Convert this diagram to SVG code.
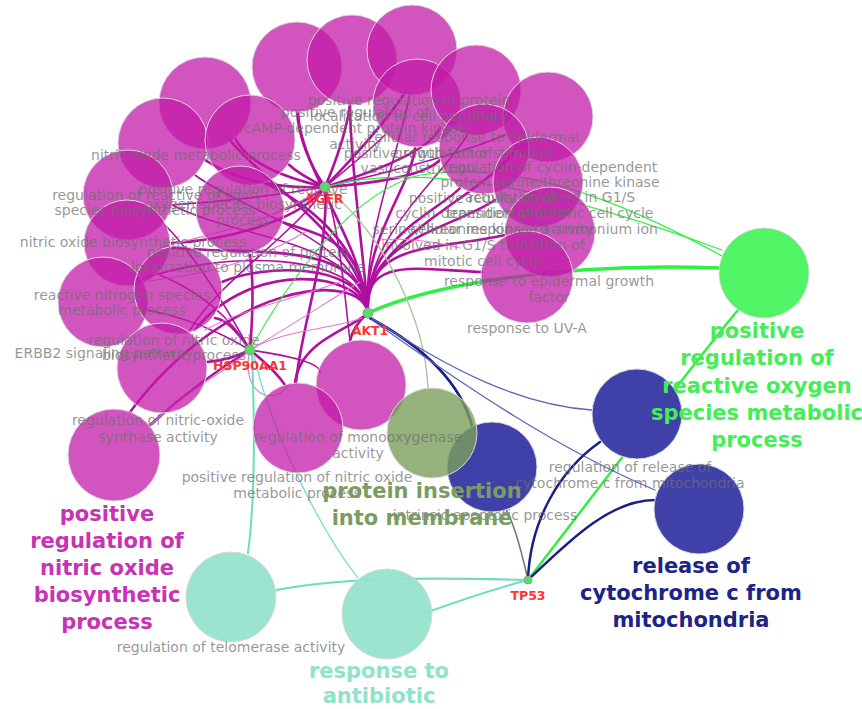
<svg xmlns="http://www.w3.org/2000/svg" width="862" height="709" viewBox="0 0 862 709">
<style>
.bg{fill:#ffffff}
.e{fill:none;stroke-linecap:round}
.mg{stroke:#b0109e;stroke-width:2.6}
.mt{stroke:#b0109e;stroke-width:1.6}
.pk{stroke:#e07ad0;stroke-width:1.1}
.gr{stroke:#33ee44}
.nv{stroke:#1a1f85}
.nl{stroke:#6464bc;stroke-width:1.3}
.ol{stroke:#a9c49a;stroke-width:1.4}
.tl{stroke:#6fdcbc}
.c{stroke:#d8d8d8;stroke-width:1}
.cm{fill:#c21aa8;fill-opacity:0.74}
.cg{fill:#50f464}
.cn{fill:#3a3aa6;fill-opacity:0.97}
.co{fill:#7b9f5c;fill-opacity:0.8}
.ct{fill:#95e3cd;fill-opacity:0.95}
.lb{font-family:"DejaVu Sans",Verdana,sans-serif;font-size:14px;fill:#6e6e6e;fill-opacity:0.72;text-anchor:middle}
.big{font-family:"DejaVu Sans",Verdana,sans-serif;font-size:21px;font-weight:bold;text-anchor:middle}
.gn{font-family:"DejaVu Sans",Verdana,sans-serif;font-size:12.5px;font-weight:bold;fill:#ff3333;text-anchor:middle}
.gd{fill:#55dd66;stroke:#9a9a9a;stroke-width:1}
</style>
<rect class="bg" x="0" y="0" width="862" height="709"/>

<g id="connectors">
  <path class="e mg" d="M368,313 C362,240 300,170 298,112"/>
  <path class="e mg" d="M368,313 C362,240 350,160 350,105"/>
  <path class="e mt" d="M368,313 C362,240 400,150 410,93"/>
  <path class="e mg" d="M368,313 C362,240 410,190 415,148"/>
  <path class="e mt" d="M368,313 C362,240 440,180 468,134"/>
  <path class="e mg" d="M368,313 C362,240 480,200 515,150"/>
  <path class="e mg" d="M368,313 C362,240 440,210 460,188"/>
  <path class="e mg" d="M368,313 C362,240 450,230 495,200"/>
  <path class="e mg" d="M368,313 C362,240 440,250 505,235"/>
  <path class="e mg" d="M368,313 C362,255 420,270 482,272"/>
  <path class="e mg" d="M368,313 C362,240 260,180 230,140"/>
  <path class="e mt" d="M368,313 C362,240 240,210 195,175"/>
  <path class="e mg" d="M368,313 C362,240 300,200 265,183"/>
  <path class="e mt" d="M368,313 C362,240 240,240 172,205"/>
  <path class="e mg" d="M368,313 C362,240 320,235 282,222"/>
  <path class="e mg" d="M368,313 C362,240 260,255 172,248"/>
  <path class="e mt" d="M368,313 C362,250 220,250 140,280"/>
  <path class="e mg" d="M368,313 C360,260 260,265 222,282"/>
  <path class="e mg" d="M368,313 C360,270 250,260 195,330"/>
  <path class="e mg" d="M368,313 C360,270 230,280 130,412"/>
  <path class="e mg" d="M368,313 C360,320 352,330 350,341"/>
  <path class="e mg" d="M368,313 C350,330 300,340 295,383"/>
  <path class="e mg" d="M325,187 Q300,150 297,112"/>
  <path class="e mg" d="M325,187 Q345,140 350,105"/>
  <path class="e mg" d="M325,187 Q380,130 405,93"/>
  <path class="e mt" d="M325,187 Q370,150 385,135"/>
  <path class="e mg" d="M325,187 C380,170 430,150 440,128"/>
  <path class="e mg" d="M325,187 Q250,170 235,138"/>
  <path class="e mg" d="M325,187 Q250,190 205,160"/>
  <path class="e mg" d="M325,187 Q300,175 288,164"/>
  <path class="e mt" d="M325,187 Q250,200 170,205"/>
  <path class="e mg" d="M325,187 Q300,205 282,210"/>
  <path class="e mg" d="M325,187 Q420,180 440,160"/>
  <path class="e mt" d="M325,187 C400,170 470,150 505,135"/>
  <path class="e mg" d="M325,187 C300,220 230,240 172,243"/>
  <path class="e mt" d="M325,187 C300,230 220,280 190,330"/>
  <path class="e mg" d="M325,187 C330,250 300,330 296,383"/>
  <path class="e mt" d="M325,187 C340,230 345,300 350,341"/>
  <path class="e mg" d="M250,350 Q230,320 215,318"/>
  <path class="e mt" d="M250,350 Q200,320 147,310"/>
  <path class="e mt" d="M250,350 Q220,300 160,275"/>
  <path class="e mg" d="M250,350 Q230,360 207,362"/>
  <path class="e mg" d="M250,350 Q200,380 150,425"/>
  <path class="e mg" d="M250,350 Q275,370 285,385"/>
  <path class="e mt" d="M250,350 Q320,360 320,372"/>
  <path class="e mg" d="M250,350 Q255,290 250,255"/>
  <path class="e mt" d="M250,350 Q200,260 165,225"/>
  <path class="e pk" d="M250,350 C300,320 330,300 360,282"/>
  <path class="e pk" d="M140,282 C200,275 250,265 305,232"/>
  <path class="e pk" d="M205,330 C240,310 290,300 340,282"/>
  <path class="e pk" d="M250,350 C280,330 330,330 362,318"/>
  <path class="e pk" d="M160,248 C220,230 260,228 325,187"/>
  <path class="e pk" d="M250,350 C240,390 270,410 290,384"/>
  <path class="e pk" d="M150,425 C200,380 230,370 250,350"/>
  <path class="e pk" d="M380,240 C400,238 430,240 460,248"/>
  <path class="e gr" stroke-width="3.5" d="M368,313 C430,285 560,262 720,268"/>
  <path class="e gr" stroke-width="1.2" d="M325,187 C420,160 560,190 722,250"/>
  <path class="e gr" stroke-width="1.2" d="M250,350 C300,260 360,190 420,175 C520,160 620,200 722,256"/>
  <path class="e gr" stroke-width="2.5" d="M528,580 C590,500 680,380 738,310"/>
  <path class="e ol" d="M325,187 C385,235 425,320 428,388"/>
  <path class="e" stroke="#667788" stroke-width="1.5" d="M528,580 C520,545 512,515 500,500"/>
  <path class="e nv" stroke-width="2.6" d="M370,318 C420,345 460,380 472,426"/>
  <path class="e nl" d="M372,318 C450,370 520,405 592,410"/>
  <path class="e nl" d="M372,320 C470,390 560,450 655,490"/>
  <path class="e nv" stroke-width="2.5" d="M528,580 C530,520 560,470 600,442"/>
  <path class="e nv" stroke-width="2.5" d="M528,580 C570,540 610,500 655,500"/>
  <path class="e tl" stroke-width="2" d="M252,355 C255,430 255,500 248,553"/>
  <path class="e tl" stroke-width="1.2" d="M254,355 C270,430 320,530 358,578"/>
  <path class="e tl" stroke-width="2.2" d="M528,580 C450,578 350,576 277,590"/>
  <path class="e tl" stroke-width="2" d="M528,580 C490,590 450,604 428,612 Q420,616 428,618"/>
</g>

<g id="n-m1"><circle class="c cm" cx="297" cy="67" r="45"/></g>
<g id="n-m2"><circle class="c cm" cx="352" cy="60" r="45"/></g>
<g id="n-m3"><circle class="c cm" cx="412" cy="50" r="45"/></g>
<g id="n-m4"><circle class="c cm" cx="417" cy="103" r="44"/></g>
<g id="n-m5"><circle class="c cm" cx="476" cy="90" r="45"/></g>
<g id="n-m6"><circle class="c cm" cx="548" cy="117" r="45"/></g>
<g id="n-m7"><circle class="c cm" cx="484" cy="149" r="45"/></g>
<g id="n-m8"><circle class="c cm" cx="538" cy="182" r="45"/></g>
<g id="n-m9"><circle class="c cm" cx="550" cy="232" r="45"/></g>
<g id="n-m10"><circle class="c cm" cx="527" cy="277" r="46"/></g>
<g id="n-m11"><circle class="c cm" cx="205" cy="103" r="46"/></g>
<g id="n-m12"><circle class="c cm" cx="163" cy="143" r="45"/></g>
<g id="n-m13"><circle class="c cm" cx="250" cy="140" r="45"/></g>
<g id="n-m14"><circle class="c cm" cx="128" cy="195" r="45"/></g>
<g id="n-m15"><circle class="c cm" cx="240" cy="210" r="44"/></g>
<g id="n-m16"><circle class="c cm" cx="127" cy="243" r="43"/></g>
<g id="n-m17"><circle class="c cm" cx="103" cy="302" r="45"/></g>
<g id="n-m18"><circle class="c cm" cx="178" cy="290" r="44"/></g>
<g id="n-m19"><circle class="c cm" cx="162" cy="368" r="45"/></g>
<g id="n-m20"><circle class="c cm" cx="114" cy="455" r="46"/></g>
<g id="n-m21"><circle class="c cm" cx="361" cy="385" r="45"/></g>
<g id="n-m22"><circle class="c cm" cx="298" cy="428" r="45"/></g>
<g id="n-ros"><circle class="c cg" cx="764" cy="273" r="45"/></g>
<g id="n-cyt1"><circle class="c cn" cx="492" cy="467" r="45"/></g>
<g id="n-cyt2"><circle class="c cn" cx="637" cy="414" r="45"/></g>
<g id="n-cyt3"><circle class="c cn" cx="699" cy="509" r="45"/></g>
<g id="n-prot"><circle class="c co" cx="432" cy="433" r="45"/></g>
<g id="n-tel"><circle class="c ct" cx="231" cy="597" r="45"/></g>
<g id="n-anti"><circle class="c ct" cx="387" cy="614" r="45"/></g>

<g id="labels">
  <text class="lb" x="196" y="160">nitric oxide metabolic process</text>
  <text class="lb" x="155" y="200">regulation of reactive oxygen</text>
  <text class="lb" x="155" y="215">species biosynthetic process</text>
  <text class="lb" x="243" y="194">positive regulation of reactive</text>
  <text class="lb" x="243" y="209">oxygen species biosynthetic</text>
  <text class="lb" x="243" y="225">process</text>
  <text class="lb" x="133" y="247">nitric oxide biosynthetic process</text>
  <text class="lb" x="248" y="257">positive regulation of protein</text>
  <text class="lb" x="248" y="272">localization to plasma membrane</text>
  <text class="lb" x="122" y="300">reactive nitrogen species</text>
  <text class="lb" x="122" y="315">metabolic process</text>
  <text class="lb" x="174" y="345">regulation of nitric oxide</text>
  <text class="lb" x="174" y="360">biosynthetic process</text>
  <text class="lb" x="104" y="358">ERBB2 signaling pathway</text>
  <text class="lb" x="158" y="425">regulation of nitric-oxide</text>
  <text class="lb" x="158" y="442">synthase activity</text>
  <text class="lb" x="358" y="442">regulation of monooxygenase</text>
  <text class="lb" x="358" y="458">activity</text>
  <text class="lb" x="297" y="482">positive regulation of nitric oxide</text>
  <text class="lb" x="297" y="498">metabolic process</text>
  <text class="lb" x="231" y="652">regulation of telomerase activity</text>
  <text class="lb" x="527" y="333">response to UV-A</text>
  <text class="lb" x="549" y="286">response to epidermal growth</text>
  <text class="lb" x="549" y="302">factor</text>
  <text class="lb" x="630" y="472">regulation of release of</text>
  <text class="lb" x="630" y="488">cytochrome c from mitochondria</text>
  <text class="lb" x="485" y="520">intrinsic apoptotic process</text>
  <text class="lb" x="483" y="203">positive regulation of</text>
  <text class="lb" x="483" y="218">cyclin-dependent protein</text>
  <text class="lb" x="483" y="234">serine/threonine kinase activity</text>
  <text class="lb" x="483" y="250">involved in G1/S transition of</text>
  <text class="lb" x="483" y="266">mitotic cell cycle</text>
  <text class="lb" x="550" y="172">regulation of cyclin-dependent</text>
  <text class="lb" x="550" y="187">protein serine/threonine kinase</text>
  <text class="lb" x="550" y="202">activity involved in G1/S</text>
  <text class="lb" x="550" y="218">transition of mitotic cell cycle</text>
  <text class="lb" x="534" y="234">cellular response to ammonium ion</text>
  <text class="lb" x="473" y="142">cellular response to epidermal</text>
  <text class="lb" x="473" y="158">growth factor stimulus</text>
  <text class="lb" x="409" y="105">positive regulation of protein</text>
  <text class="lb" x="409" y="121">localization to cell periphery</text>
  <text class="lb" x="355" y="117">positive regulation of</text>
  <text class="lb" x="355" y="133">cAMP-dependent protein kinase</text>
  <text class="lb" x="355" y="149">activity</text>
  <text class="lb" x="418" y="158">positive regulation of</text>
  <text class="lb" x="418" y="173">vasoconstriction</text>
</g>

<g id="g-EGFR"><circle class="gd" cx="325" cy="187" r="5"/><text class="gn" x="325" y="203">EGFR</text></g>
<g id="g-AKT1"><circle class="gd" cx="368" cy="313" r="5"/><text class="gn" x="370" y="335">AKT1</text></g>
<g id="g-HSP90AA1"><circle class="gd" cx="250" cy="350" r="5"/><text class="gn" x="250" y="370">HSP90AA1</text></g>
<g id="g-TP53"><circle class="gd" cx="528" cy="580" r="4"/><text class="gn" x="528" y="600">TP53</text></g>

<g id="big-labels">
  <text class="big" fill="#c832b4" x="107" y="521">positive</text>
  <text class="big" fill="#c832b4" x="107" y="548">regulation of</text>
  <text class="big" fill="#c832b4" x="107" y="575">nitric oxide</text>
  <text class="big" fill="#c832b4" x="107" y="602">biosynthetic</text>
  <text class="big" fill="#c832b4" x="107" y="629">process</text>
  <text class="big" fill="#8fe3cb" x="379" y="678">response to</text>
  <text class="big" fill="#8fe3cb" x="379" y="703">antibiotic</text>
  <text class="big" fill="#7a9c62" x="422" y="498">protein insertion</text>
  <text class="big" fill="#7a9c62" x="422" y="525">into membrane</text>
  <text class="big" fill="#1c2488" x="691" y="573">release of</text>
  <text class="big" fill="#1c2488" x="691" y="600">cytochrome c from</text>
  <text class="big" fill="#1c2488" x="691" y="627">mitochondria</text>
  <text class="big" fill="#44ee55" x="757" y="338">positive</text>
  <text class="big" fill="#44ee55" x="757" y="365">regulation of</text>
  <text class="big" fill="#44ee55" x="757" y="393">reactive oxygen</text>
  <text class="big" fill="#44ee55" x="757" y="420">species metabolic</text>
  <text class="big" fill="#44ee55" x="757" y="447">process</text>
</g>
</svg>
